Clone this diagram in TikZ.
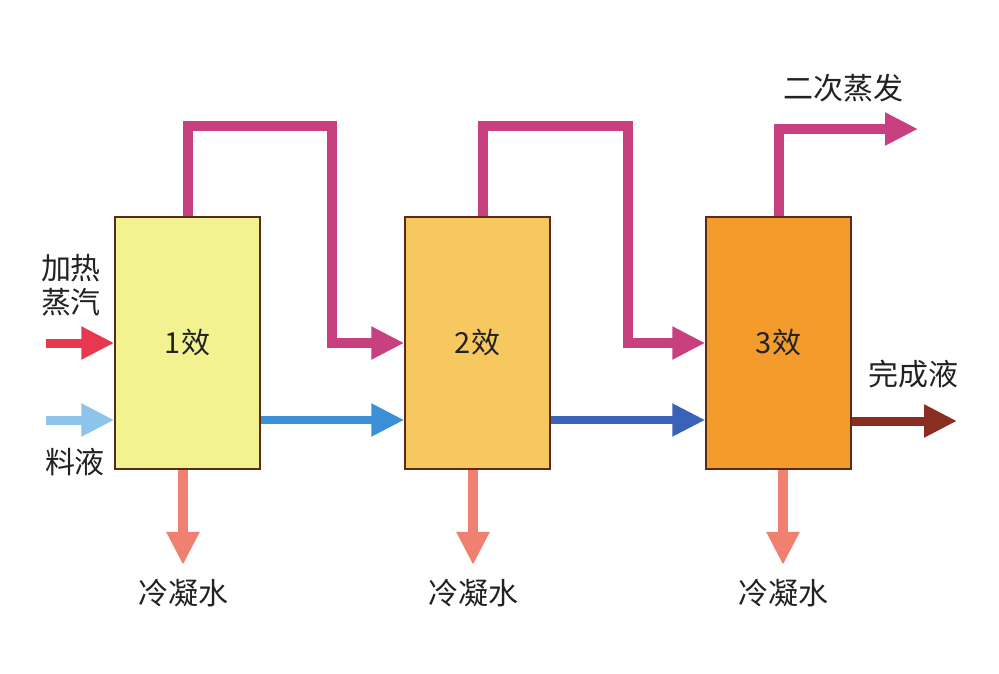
\documentclass[tikz,border=0pt]{standalone}
\usepackage{fontspec}
\setmainfont{Noto Sans CJK SC}
\usetikzlibrary{arrows.meta}

\definecolor{effA}{HTML}{F2F290}
\definecolor{effB}{HTML}{F8C860}
\definecolor{effC}{HTML}{F39B2B}
\definecolor{rim}{HTML}{5C2A1C}
\definecolor{vapour}{HTML}{C8407F}
\definecolor{heat}{HTML}{E8384F}
\definecolor{feed}{HTML}{8CC4EC}
\definecolor{liqA}{HTML}{3A8FD6}
\definecolor{liqB}{HTML}{3A62B8}
\definecolor{product}{HTML}{8B2E22}
\definecolor{condens}{HTML}{F0806F}
\definecolor{ink}{HTML}{222222}

\tikzset{
	effect/.style = {draw = rim, line width = 1.5pt, minimum width = 145pt, minimum height = 252pt, font = \fontsize{29}{29}\selectfont, text = ink},
	flow/.style = {line width = 10pt, -{Triangle[length = 33pt, width = 31pt]}},
	label/.style = {font = \fontsize{30}{34}\selectfont, text = ink, inner sep = 0pt, align = left}
}

\begin{document}
\begin{tikzpicture}[x = 1pt, y = -1pt]
			\useasboundingbox (0,0) rectangle (999,674);
			% evaporators
			\node[effect, fill = effA] (e1) at (187.5,343) {1效};
			\node[effect, fill = effB] (e2) at (477.5,343) {2效};
			\node[effect, fill = effC] (e3) at (778.5,343) {3效};
			% labels
			\node[label] (steam) at (71,285) {加热\\蒸汽};
			\node[label] (feedtxt) at (75,462) {料液};
			\node[label] (vaptxt) at (843,88) {二次蒸发};
			\node[label] (prodtxt) at (913,374) {完成液};
			\node[label] (c1) at (183,593) {冷凝水};
			\node[label] (c2) at (473,593) {冷凝水};
			\node[label] (c3) at (783,593) {冷凝水};
			% free ends
			\coordinate (s0) at (46,343);
			\coordinate (f0) at (46,420);
			\coordinate (t1) at (332,126);
			\coordinate (t2) at (628,126);
			\coordinate (v0) at (918,129);
			\coordinate (p0) at (957,421);
			% secondary vapour
			\draw[flow, vapour] (e1.north) |- (t1) |- (e2.west);
			\draw[flow, vapour] ([xshift = 5]e2.north) |- (t2) |- (e3.west);
			\draw[flow, vapour] (e3.north) |- (v0);
			% heating steam and feed
			\draw[flow, heat, line width = 9pt] (s0) -- (e1.west);
			\draw[flow, feed, line width = 9pt] (f0) -- (e1.west |- f0);
			% liquor
			\draw[flow, liqA, line width = 8pt] ([yshift = -77]e1.east) -- ([yshift = -77]e2.west);
			\draw[flow, liqB, line width = 8pt] ([yshift = -77]e2.east) -- ([yshift = -77]e3.west);
			\draw[flow, product, line width = 9pt] ([yshift = -78]e3.east) -- (p0);
			% condensate
			\draw[flow, condens] (e1.south -| c1) -- ([yshift = 14]c1.north);
			\draw[flow, condens] (e2.south -| c2) -- ([yshift = 14]c2.north);
			\draw[flow, condens] (e3.south -| c3) -- ([yshift = 14]c3.north);
\end{tikzpicture}
\end{document}
